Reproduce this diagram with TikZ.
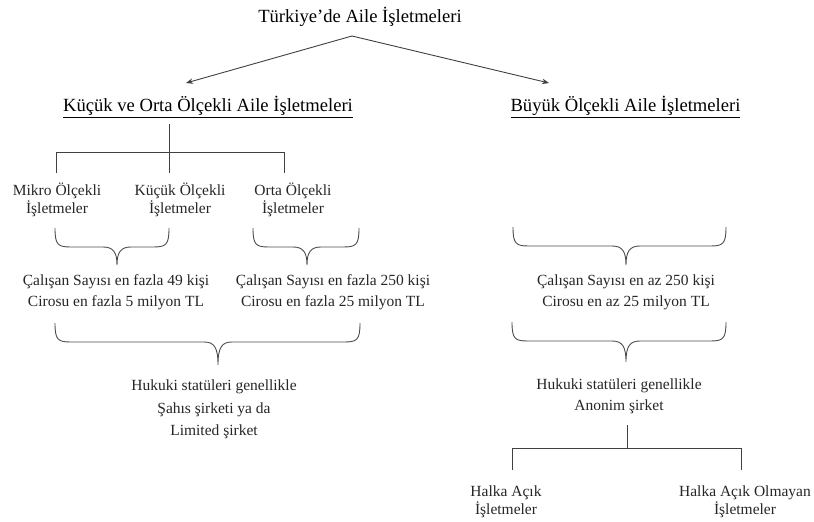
\documentclass[tikz,border=0pt]{standalone}
\usepackage{fontspec}
\setmainfont{Liberation Serif}
\usetikzlibrary{arrows.meta}
\tikzset{
  head/.style={inner sep=0pt, font=\fontsize{18.6}{22}\selectfont, text=black},
  body/.style={inner sep=0pt, align=center, font=\fontsize{15.5}{21}\selectfont, text=black!85},
  bodytight/.style={body, font=\fontsize{15.5}{17.5}\selectfont},
  bodywide/.style={body, font=\fontsize{15.5}{22.5}\selectfont},
  conn/.style={draw=black!75, line width=0.9pt},
  arr/.style={conn, -{Stealth[length=7pt,width=5.5pt]}},
  brace/.style={draw=black!70, line width=0.9pt}
}
\newcommand\cbrace[6]{%
  \draw[brace] (#1,#4) .. controls (#1,{#5-2}) and ({#1+3},#5) .. ({#1+16},#5)
    -- ({#3-14},#5) .. controls ({#3-4},#5) and (#3,{#5+5}) .. (#3,#6)
    .. controls (#3,{#5+5}) and ({#3+4},#5) .. ({#3+14},#5)
    -- ({#2-16},#5) .. controls ({#2-3},#5) and (#2,{#5-2}) .. (#2,#4);}
\begin{document}
\begin{tikzpicture}[x=1pt,y=-1pt]
\useasboundingbox (0,0) rectangle (814,522);
% title and headings
\node[head] (title) at (360,17) {Türkiye’de Aile İşletmeleri};
\node[head] (kobi) at (208,107) {\underline{Küçük ve Orta Ölçekli Aile İşletmeleri}};
\node[head] (buyuk) at (625.5,107) {\underline{Büyük Ölçekli Aile İşletmeleri}};
\coordinate (apex) at (352,36);
\coordinate (kobiend) at (186,83);
\coordinate (buyukend) at (549,83);
\draw[arr] (apex) -- (kobiend);
\draw[arr] (apex) -- (buyukend);
% left tree
\node[bodytight] (mikro) at (57,200) {Mikro Ölçekli\\İşletmeler};
\node[bodytight] (kucuk) at (180,200) {Küçük Ölçekli\\İşletmeler};
\node[bodytight] (orta) at (293,200) {Orta Ölçekli\\İşletmeler};
\coordinate (trunktop) at (169,124);
\coordinate (bar) at (169,152);
\draw[conn] (trunktop) -- (169,173);
\draw[conn] (56,173) -- (56,152) -- (284,152) -- (284,173);
% braces left
\cbrace{55}{169}{117}{228}{247}{265}
\cbrace{253}{359}{307}{228}{247}{265}
\node[body] (c1) at (116,292.5) {Çalışan Sayısı en fazla 49 kişi\\Cirosu en fazla 5 milyon TL};
\node[body] (c2) at (333,292.5) {Çalışan Sayısı en fazla 250 kişi\\Cirosu en fazla 25 milyon TL};
\cbrace{55}{360}{218}{323}{342}{365}
\node[bodywide] (hl) at (214,409.5) {Hukuki statüleri genellikle\\Şahıs şirketi ya da\\Limited şirket};
% right side
\cbrace{513}{726}{626}{227}{246}{265}
\node[body] (c3) at (626,292.5) {Çalışan Sayısı en az 250 kişi\\Cirosu en az 25 milyon TL};
\cbrace{512}{726}{626}{322}{341}{362}
\node[body] (hr) at (619,396.5) {Hukuki statüleri genellikle\\Anonim şirket};
\node[bodytight] (halka) at (506,502) {Halka Açık\\İşletmeler};
\node[bodytight] (halkaol) at (745,502) {Halka Açık Olmayan\\İşletmeler};
\coordinate (rtop) at (627,425);
\draw[conn] (rtop) -- (627,448);
\draw[conn] (512,470) -- (512,448) -- (741,448) -- (741,470);
\end{tikzpicture}
\end{document}
